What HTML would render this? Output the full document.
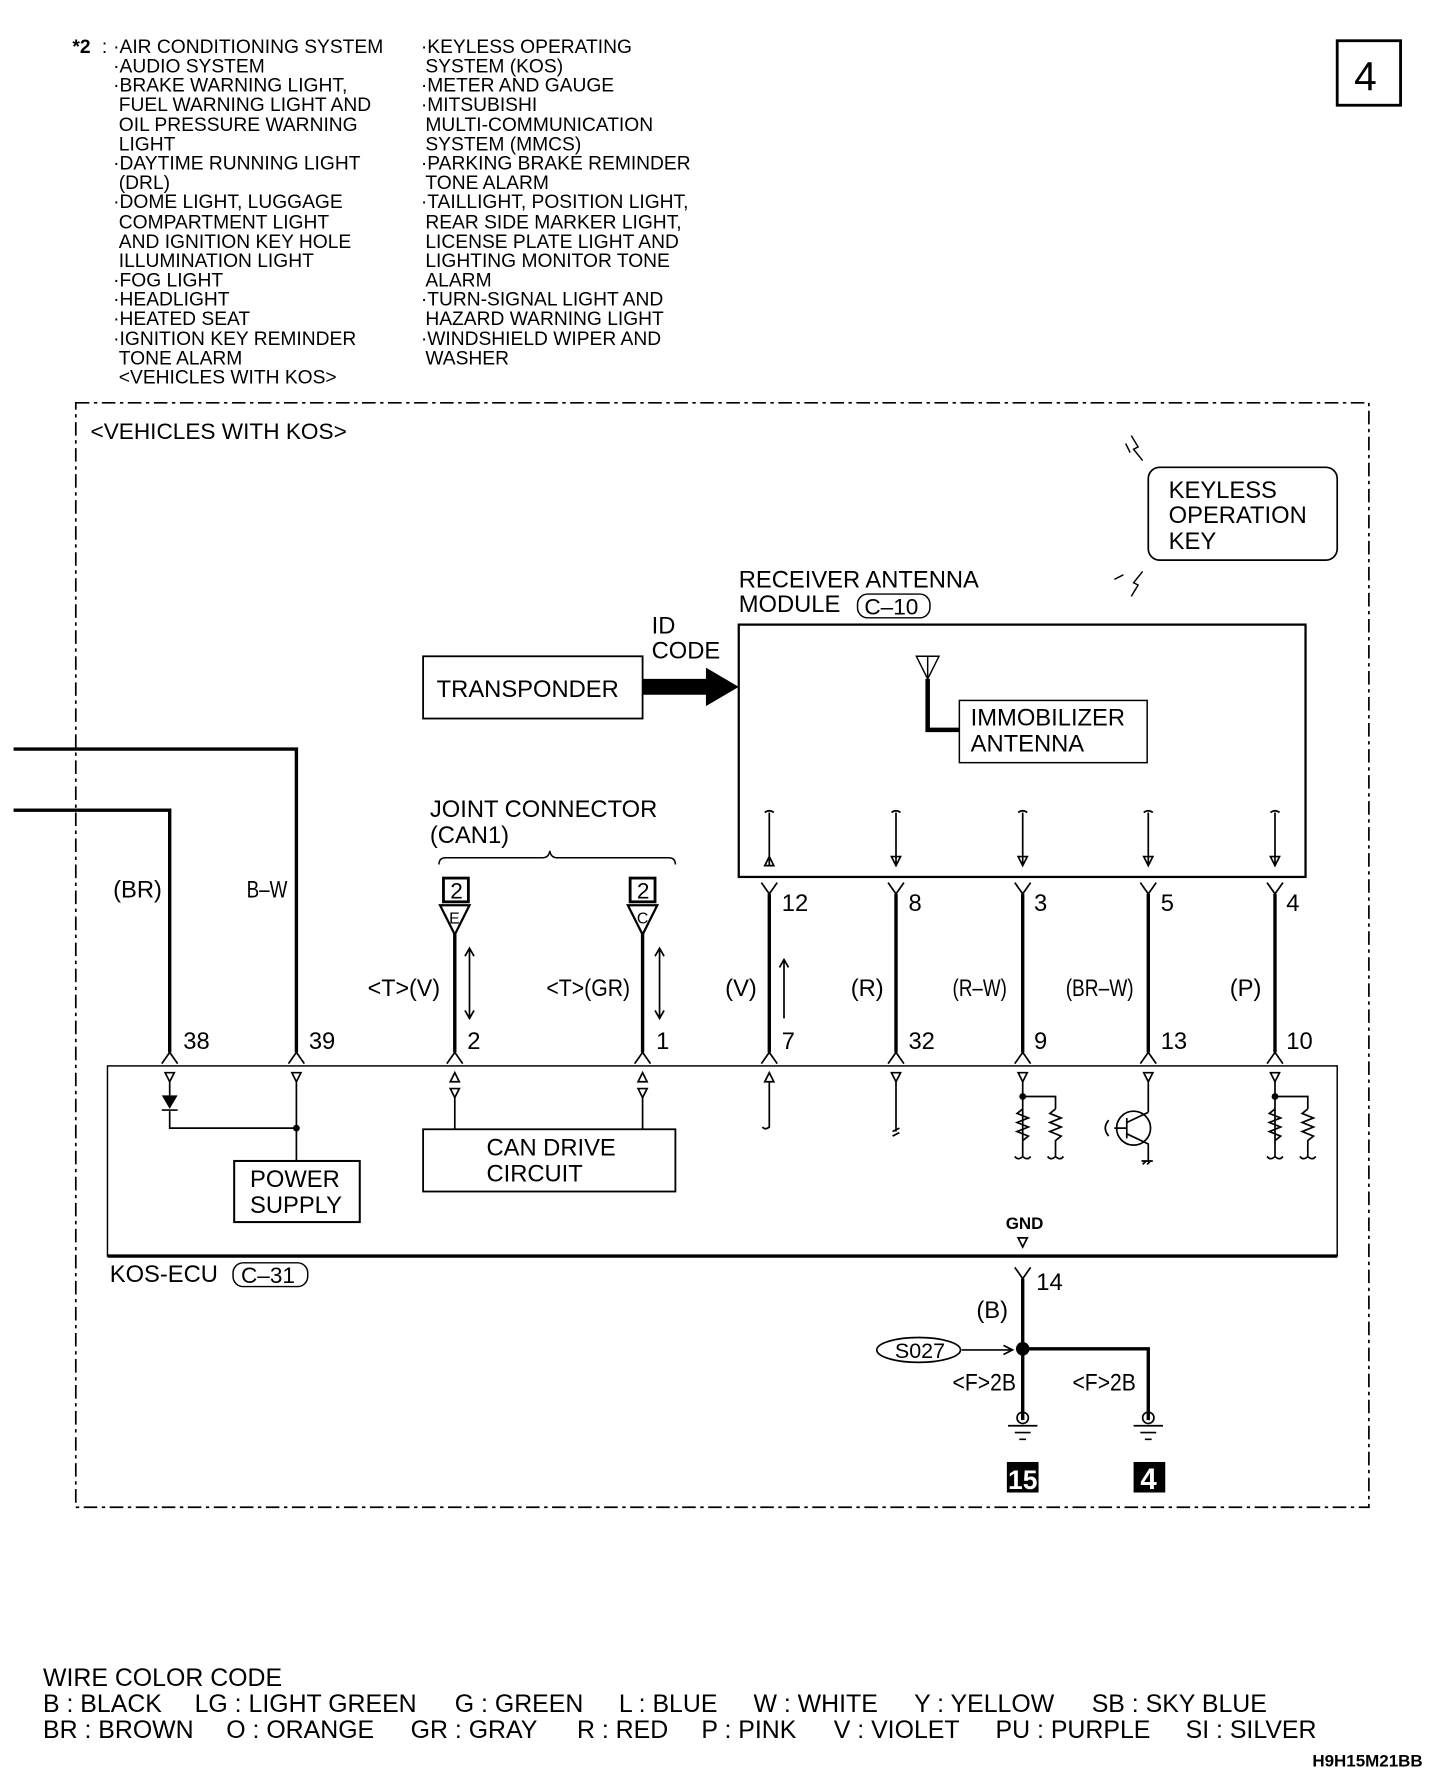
<!DOCTYPE html>
<html><head><meta charset="utf-8"><style>
html,body{margin:0;padding:0;background:#fff}
svg{display:block}
text{font-family:"Liberation Sans Narrow","Liberation Sans",sans-serif;fill:#000}
</style></head><body>
<svg width="1456" height="1772" viewBox="0 0 1287 1566" preserveAspectRatio="none" xmlns="http://www.w3.org/2000/svg">
<g font-size="17">
<text x="64" y="47" font-weight="bold">*2</text><text x="90" y="47">:</text>
<text x="100" y="47">·AIR CONDITIONING SYSTEM</text>
<text x="100" y="64">·AUDIO SYSTEM</text>
<text x="100" y="81">·BRAKE WARNING LIGHT,</text>
<text x="105" y="98">FUEL WARNING LIGHT AND</text>
<text x="105" y="116">OIL PRESSURE WARNING</text>
<text x="105" y="133">LIGHT</text>
<text x="100" y="150">·DAYTIME RUNNING LIGHT</text>
<text x="105" y="167">(DRL)</text>
<text x="100" y="184">·DOME LIGHT, LUGGAGE</text>
<text x="105" y="202">COMPARTMENT LIGHT</text>
<text x="105" y="219">AND IGNITION KEY HOLE</text>
<text x="105" y="236">ILLUMINATION LIGHT</text>
<text x="100" y="253">·FOG LIGHT</text>
<text x="100" y="270">·HEADLIGHT</text>
<text x="100" y="287">·HEATED SEAT</text>
<text x="100" y="305">·IGNITION KEY REMINDER</text>
<text x="105" y="322">TONE ALARM</text>
<text x="105" y="339">&lt;VEHICLES WITH KOS&gt;</text>
<text x="372" y="47">·KEYLESS OPERATING</text>
<text x="376" y="64">SYSTEM (KOS)</text>
<text x="372" y="81">·METER AND GAUGE</text>
<text x="372" y="98">·MITSUBISHI</text>
<text x="376" y="116">MULTI-COMMUNICATION</text>
<text x="376" y="133">SYSTEM (MMCS)</text>
<text x="372" y="150">·PARKING BRAKE REMINDER</text>
<text x="376" y="167">TONE ALARM</text>
<text x="372" y="184">·TAILLIGHT, POSITION LIGHT,</text>
<text x="376" y="202">REAR SIDE MARKER LIGHT,</text>
<text x="376" y="219">LICENSE PLATE LIGHT AND</text>
<text x="376" y="236">LIGHTING MONITOR TONE</text>
<text x="376" y="253">ALARM</text>
<text x="372" y="270">·TURN-SIGNAL LIGHT AND</text>
<text x="376" y="287">HAZARD WARNING LIGHT</text>
<text x="372" y="305">·WINDSHIELD WIPER AND</text>
<text x="376" y="322">WASHER</text>
</g>
<rect x="1182" y="36" width="56" height="57" fill="none" stroke="#000" stroke-width="2.5"/>
<text x="1197" y="80" font-size="36">4</text>
<rect x="67" y="356" width="1143" height="976" fill="none" stroke="#000" stroke-width="1.5" stroke-dasharray="12,4,3,4"/>
<text x="80" y="388" font-size="20">&lt;VEHICLES WITH KOS&gt;</text>
<rect x="1015" y="413" width="167" height="82" rx="10" fill="none" stroke="#000" stroke-width="1.5"/>
<g font-size="21"><text x="1033" y="440">KEYLESS</text><text x="1033" y="462">OPERATION</text><text x="1033" y="485">KEY</text>
<text x="653" y="519">RECEIVER ANTENNA</text><text x="653" y="541">MODULE</text>
<text x="576" y="560">ID</text><text x="576" y="582">CODE</text>
<text x="386" y="616">TRANSPONDER</text>
<text x="858" y="641">IMMOBILIZER</text><text x="858" y="664">ANTENNA</text>
<text x="380" y="722">JOINT CONNECTOR</text><text x="380" y="745">(CAN1)</text>
<text x="430" y="1021">CAN DRIVE</text><text x="430" y="1044">CIRCUIT</text>
<text x="221" y="1049">POWER</text><text x="221" y="1072">SUPPLY</text>
<text x="97" y="1133">KOS-ECU</text></g>
<g fill="none" stroke="#000" stroke-width="1.3">
<path d="M1000 385 l6 10 l-4 2 l8 10 M995 392 l4 8 M1010 505 l-8 10 l4 2 l-6 10 M985 512 l8 -4"/>
<rect x="758" y="525" width="64" height="21" rx="9"/>
<rect x="206" y="1116" width="66" height="21" rx="9"/>
<rect x="653" y="552" width="501" height="223" stroke-width="2"/>
<rect x="848" y="619" width="166" height="55"/>
<rect x="374" y="580" width="194" height="55" stroke-width="1.6"/>
<path d="M810 580 h20 l-10 20 z M820 580 v20"/>
<path d="M388 764 q0 -6 6 -6 h86 q5 0 6 -6 q1 6 6 6 h99 q6 0 6 6"/>
<rect x="95" y="942" width="1087" height="168"/>
<rect x="207" y="1026" width="111" height="54" stroke-width="1.8"/>
<rect x="374" y="998" width="223" height="55" stroke-width="1.6"/>
</g>
<text x="764" y="543" font-size="20">C–10</text>
<text x="213" y="1134" font-size="20">C–31</text>
<path d="M820 600 V645 H848" stroke="#000" stroke-width="4" fill="none"/>
<path d="M568 600 h56 v-10 l29 17 l-29 17 v-10 h-56 z" fill="#000"/>
<g stroke="#000" stroke-width="3" fill="none">
<path d="M12 662 H262 V930 M12 716 H150 V930"/>
<path d="M402 825 V930 M568 825 V930 M680 790 V930 M792 790 V930 M904 790 V930 M1015 790 V930 M1127 790 V930"/>
<path d="M904 1130 V1255 M904 1192 H1015 V1255"/>
</g>
<g stroke="#000" stroke-width="1.5" fill="none">
<path d="M143 940 l7 -10 l7 10 M255 940 l7 -10 l7 10 M395 940 l7 -10 l7 10 M561 940 l7 -10 l7 10 M673 940 l7 -10 l7 10 M785 940 l7 -10 l7 10 M897 940 l7 -10 l7 10 M1008 940 l7 -10 l7 10 M1120 940 l7 -10 l7 10"/>
<path d="M673 780 l7 10 l7 -10 M785 780 l7 10 l7 -10 M897 780 l7 10 l7 -10 M1008 780 l7 10 l7 -10 M1120 780 l7 10 l7 -10 M897 1120 l7 10 l7 -10"/>
<path d="M415 838 V900 M411 845 l4 -7 l4 7 M411 893 l4 7 l4 -7 M583 838 V900 M579 845 l4 -7 l4 7 M579 893 l4 7 l4 -7 M693 848 V900 M689 855 l4 -7 l4 7"/>
<path d="M676 718 q4 -3 8 0 M680 718 V765 M676 765 l4 -8 l4 8 z"/>
<path d="M788 718 q4 -3 8 0 M792 718 V765 M788 757 l4 8 l4 -8 z"/>
<path d="M900 718 q4 -3 8 0 M904 718 V765 M900 757 l4 8 l4 -8 z"/>
<path d="M1011 718 q4 -3 8 0 M1015 718 V765 M1011 757 l4 8 l4 -8 z"/>
<path d="M1123 718 q4 -3 8 0 M1127 718 V765 M1123 757 l4 8 l4 -8 z"/>
<path d="M146 948 l4 8 l4 -8 z M258 948 l4 8 l4 -8 z M900 948 l4 8 l4 -8 z M1011 948 l4 8 l4 -8 z M1123 948 l4 8 l4 -8 z M788 948 l4 8 l4 -8 z"/>
<path d="M398 956 l4 -8 l4 8 z M398 962 l4 8 l4 -8 z M564 956 l4 -8 l4 8 z M564 962 l4 8 l4 -8 z M676 956 l4 -8 l4 8 z"/>
<path d="M150 956 V968 M150 982 V997 H262 M262 956 V1026 M402 970 V998 M568 970 V998 M680 956 V996 q-4 3 -6 0 M792 956 V1000 M789 1000 l6 -3 M789 1004 l6 -3"/>
<path d="M904 956 V1020 M904 969 H933 V980 M904 980 l-5 4 l10 4 l-10 4 l10 4 l-10 4 l10 4 l-5 4 V1022 M933 980 l-5 4 l10 4 l-10 4 l10 4 l-10 4 l10 4 l-5 4 V1022 M897 1022 q3 4 7 0 q4 4 7 0 M926 1022 q3 4 7 0 q4 4 7 0"/>
<path d="M1127 956 V1020 M1127 969 H1156 V980 M1127 980 l-5 4 l10 4 l-10 4 l10 4 l-10 4 l10 4 l-5 4 V1022 M1156 980 l-5 4 l10 4 l-10 4 l10 4 l-10 4 l10 4 l-5 4 V1022 M1120 1022 q3 4 7 0 q4 4 7 0 M1149 1022 q3 4 7 0 q4 4 7 0"/>
<circle cx="1002" cy="997" r="15"/>
<path d="M1015 956 V983 M996 988 V1006 M996 992 L1015 983 M996 1002 L1015 1011 V1026 M1009 1026 h10 M1010 1029 l3 -3 M1014 1029 l3 -3 M985 997 H996 M980 990 q-6 7 0 14"/>
<path d="M900 1094 l4 8 l4 -8 z"/>
<path d="M850 1193 H893 M887 1189 l8 4 l-8 4"/>
<ellipse cx="812" cy="1193" rx="37" ry="11"/>
<circle cx="904" cy="1253" r="5"/><circle cx="1015" cy="1253" r="5"/>
<path d="M891 1260 h26 M897 1266 h14 M901 1272 h6 M1002 1260 h26 M1008 1266 h14 M1012 1272 h6"/>
</g>
<path d="M143 968 h14 l-7 12 z" fill="#000"/><path d="M143 981 h14" stroke="#000" stroke-width="1.5"/>
<path d="M95 1110 H1182" stroke="#000" stroke-width="3"/>
<circle cx="262" cy="997" r="3"/><circle cx="904" cy="969" r="3"/><circle cx="1127" cy="969" r="3"/><circle cx="904" cy="1192" r="6"/>
<g stroke="#000" fill="none">
<rect x="392" y="776" width="22" height="21" stroke-width="2.5"/>
<rect x="557" y="776" width="22" height="21" stroke-width="2.5"/>
<path d="M389 800 h26 l-13 26 z M555 800 h26 l-13 26 z" stroke-width="2"/>
</g>
<g font-size="20">
<text x="398" y="794">2</text><text x="563" y="794">2</text>
<text x="397" y="816" font-size="14">E</text><text x="563" y="816" font-size="14">C</text>
<text x="791" y="1200" font-size="19">S027</text>
</g>
<g font-size="21">
<text x="100" y="793">(BR)</text><text x="218" y="793" textLength="36" lengthAdjust="spacingAndGlyphs">B–W</text>
<text x="325" y="880" textLength="64" lengthAdjust="spacingAndGlyphs">&lt;T&gt;(V)</text><text x="483" y="880" textLength="74" lengthAdjust="spacingAndGlyphs">&lt;T&gt;(GR)</text>
<text x="641" y="880">(V)</text><text x="752" y="880">(R)</text><text x="842" y="880" textLength="48" lengthAdjust="spacingAndGlyphs">(R–W)</text><text x="942" y="880" textLength="60" lengthAdjust="spacingAndGlyphs">(BR–W)</text><text x="1087" y="880">(P)</text>
<text x="691" y="805">12</text><text x="803" y="805">8</text><text x="914" y="805">3</text><text x="1026" y="805">5</text><text x="1137" y="805">4</text>
<text x="162" y="927">38</text><text x="273" y="927">39</text><text x="413" y="927">2</text><text x="580" y="927">1</text><text x="691" y="927">7</text><text x="803" y="927">32</text><text x="914" y="927">9</text><text x="1026" y="927">13</text><text x="1137" y="927">10</text>
<text x="916" y="1140">14</text><text x="863" y="1165">(B)</text>
<text x="842" y="1229" textLength="56" lengthAdjust="spacingAndGlyphs">&lt;F&gt;2B</text><text x="948" y="1229" textLength="56" lengthAdjust="spacingAndGlyphs">&lt;F&gt;2B</text>
</g>
<text x="889" y="1086" font-size="15" font-weight="bold">GND</text>
<rect x="890" y="1292" width="28" height="27" fill="#000"/><text x="891" y="1316" font-size="24" font-weight="bold" style="fill:#fff" textLength="26" lengthAdjust="spacingAndGlyphs">15</text>
<rect x="1002" y="1292" width="28" height="27" fill="#000"/><text x="1008" y="1316" font-size="26" font-weight="bold" style="fill:#fff">4</text>
<g font-size="22">
<text x="38" y="1490">WIRE COLOR CODE</text>
<text x="38" y="1513">B : BLACK</text><text x="172" y="1513">LG : LIGHT GREEN</text><text x="402" y="1513">G : GREEN</text><text x="547" y="1513">L : BLUE</text><text x="666" y="1513">W : WHITE</text><text x="808" y="1513">Y : YELLOW</text><text x="965" y="1513">SB : SKY BLUE</text>
<text x="38" y="1536">BR : BROWN</text><text x="200" y="1536">O : ORANGE</text><text x="363" y="1536">GR : GRAY</text><text x="510" y="1536">R : RED</text><text x="620" y="1536">P : PINK</text><text x="737" y="1536">V : VIOLET</text><text x="880" y="1536">PU : PURPLE</text><text x="1048" y="1536">SI : SILVER</text>
</g>
<text x="1160" y="1561" font-size="15" font-weight="bold">H9H15M21BB</text>
</svg>
</body></html>
